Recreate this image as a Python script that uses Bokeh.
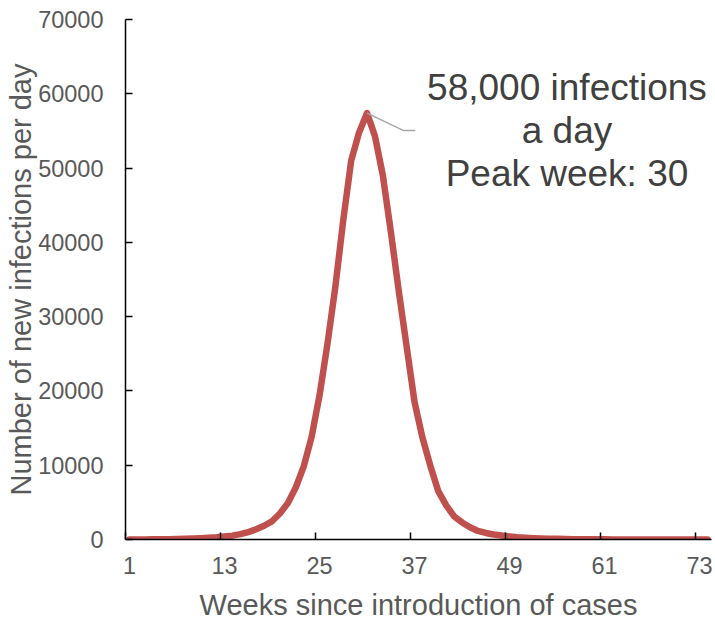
from bokeh.plotting import figure
from bokeh.models import Range1d, FixedTicker, NumeralTickFormatter, Label
from bokeh.embed import file_html
from bokeh.resources import INLINE

# ---- data ----
weeks = list(range(1, 75))
infections = [
    0, 0, 10, 20, 30, 50, 70, 100, 130, 170,
    220, 290, 400, 520, 720, 1000, 1380, 1850, 2450, 3500,
    4900, 7000, 9800, 13800, 19400, 26300, 34000, 43000, 51000, 54800,
    57400, 54300, 49000, 41500, 33500, 26000, 18500, 13700, 9900, 6500,
    4600, 3100, 2300, 1650, 1150, 880, 680, 530, 410, 310,
    240, 180, 140, 110, 85, 65, 50, 40, 30, 25,
    20, 15, 12, 10, 8, 6, 5, 4, 3, 2,
    2, 1, 1, 1,
]
x_tick_labels = [1, 13, 25, 37, 49, 61, 73]
y_ticks = [0, 10000, 20000, 30000, 40000, 50000, 60000, 70000]
annotation_lines = ["58,000 infections", "a day", "Peak week: 30"]
x_title = "Weeks since introduction of cases"
y_title = "Number of new infections per day"

FONT = "Liberation Sans"
LABEL_GREY = "#595959"

p = figure(
    width=715, height=623,
    output_backend="svg", toolbar_location=None,
    x_range=Range1d(0.5, 74.5), y_range=Range1d(0, 70000),
    min_border_left=125, min_border_right=4, min_border_top=19, min_border_bottom=84,
)
p.outline_line_color = None
p.xgrid.grid_line_color = None
p.ygrid.grid_line_color = None
p.background_fill_color = "white"
p.border_fill_color = "white"

# x axis: labels at category centres, tick marks at category boundaries
xa = p.xaxis[0]
xa.ticker = FixedTicker(ticks=x_tick_labels,
                        minor_ticks=[t - 0.5 for t in x_tick_labels])
xa.major_tick_line_color = None
xa.major_tick_in = 0
xa.major_tick_out = 0
xa.minor_tick_in = 7
xa.minor_tick_out = 0
xa.minor_tick_line_color = "black"
xa.minor_tick_line_width = 1.5
xa.axis_line_color = "black"
xa.axis_line_width = 1.5
xa.major_label_text_font = FONT
xa.major_label_text_font_size = "23.5px"
xa.major_label_text_color = LABEL_GREY
xa.major_label_standoff = 17
xa.axis_label = x_title
xa.axis_label_text_font = FONT
xa.axis_label_text_font_size = "29px"
xa.axis_label_text_font_style = "normal"
xa.axis_label_text_color = LABEL_GREY
xa.axis_label_standoff = 12

ya = p.yaxis[0]
ya.ticker = FixedTicker(ticks=y_ticks, minor_ticks=[])
ya.formatter = NumeralTickFormatter(format="0")
ya.major_tick_in = 7
ya.major_tick_out = 0
ya.major_tick_line_color = "black"
ya.major_tick_line_width = 1.5
ya.minor_tick_line_color = None
ya.axis_line_color = "black"
ya.axis_line_width = 1.5
ya.major_label_text_font = FONT
ya.major_label_text_font_size = "23.5px"
ya.major_label_text_color = LABEL_GREY
ya.major_label_standoff = 22
ya.axis_label = y_title
ya.axis_label_text_font = FONT
ya.axis_label_text_font_size = "29px"
ya.axis_label_text_font_style = "normal"
ya.axis_label_text_color = LABEL_GREY
ya.axis_label_standoff = -2

# the epidemic curve
p.line(weeks, infections, line_color="#C0504D", line_width=6.5,
       line_join="round", line_cap="round")

# leader line from the peak to the annotation
peak_i = max(range(len(infections)), key=lambda i: infections[i])
peak_w, peak_v = weeks[peak_i], infections[peak_i]
p.line([peak_w, 35.63, 37.1], [peak_v, 55050, 55050],
       line_color="#A6A6A6", line_width=1.5)

for txt, yv in zip(annotation_lines, [60810, 55020, 49240]):
    p.add_layout(Label(x=56.25, y=yv, text=txt, text_align="center",
                       text_baseline="alphabetic", text_font=FONT,
                       text_font_size="37px", text_color="#404040"))

open("out.html", "w").write(file_html(p, INLINE))
